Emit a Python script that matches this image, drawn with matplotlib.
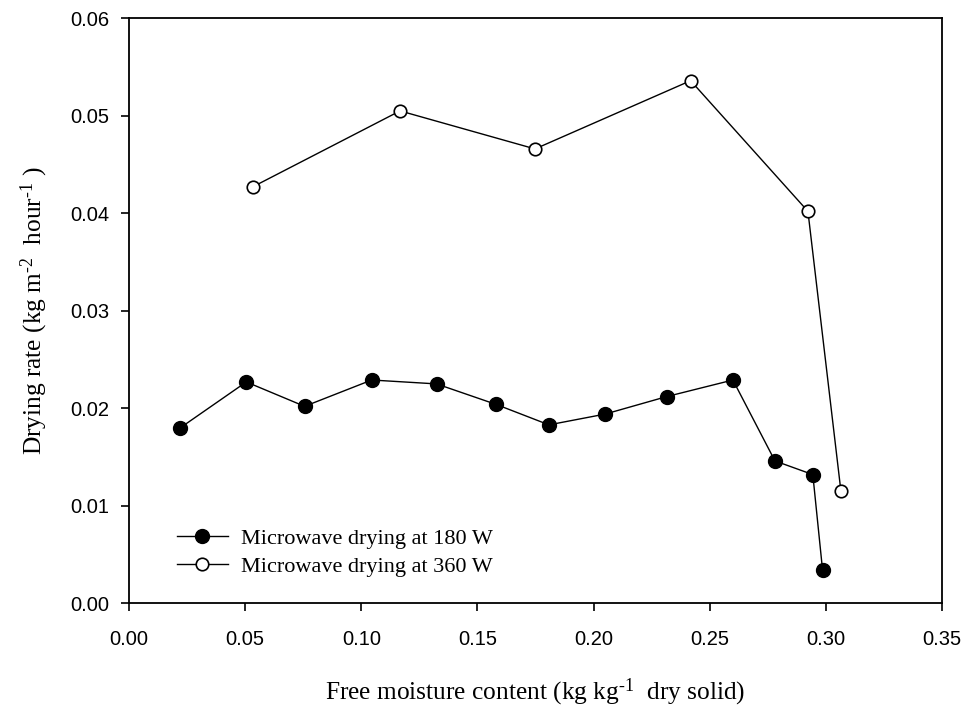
import matplotlib
matplotlib.use("Agg")
import matplotlib.pyplot as plt

# Drying-rate curves for microwave drying at two power levels
moisture_180 = [0.0221, 0.0505, 0.0756, 0.1045, 0.1324, 0.1580, 0.1808,
                0.2049, 0.2315, 0.2600, 0.2781, 0.2944, 0.2986]
rate_180 = [0.0180, 0.0227, 0.0202, 0.0229, 0.0225, 0.0204, 0.0183,
            0.0194, 0.0212, 0.0229, 0.0146, 0.0132, 0.0034]

moisture_360 = [0.0532, 0.1167, 0.1748, 0.2418, 0.2923, 0.3065]
rate_360 = [0.0427, 0.0505, 0.0466, 0.0536, 0.0402, 0.0115]

labels = ["Microwave drying at 180 W", "Microwave drying at 360 W"]
xticks = [0.00, 0.05, 0.10, 0.15, 0.20, 0.25, 0.30, 0.35]
yticks = [0.00, 0.01, 0.02, 0.03, 0.04, 0.05, 0.06]

plt.rcParams["mathtext.fontset"] = "custom"
plt.rcParams["mathtext.rm"] = "Liberation Serif"
plt.rcParams["mathtext.default"] = "regular"

fig = plt.figure(figsize=(9.67, 7.11), dpi=100)
ax = fig.add_axes([0.1334, 0.1515, 0.8407, 0.8228])

ax.plot(moisture_180, rate_180, color="black", lw=1.0, marker="o",
        ms=10, mfc="black", mec="black", label=labels[0])
ax.plot(moisture_360, rate_360, color="black", lw=1.0, marker="o",
        ms=9, mfc="white", mec="black", mew=1.2, label=labels[1])

ax.set_xlim(0, 0.35)
ax.set_ylim(0, 0.06)
ax.set_xticks(xticks)
ax.set_yticks(yticks)
ax.set_xticklabels([f"{t:.2f}" for t in xticks])
ax.set_yticklabels([f"{t:.2f}" for t in yticks])

for side in ["top", "bottom", "left", "right"]:
    ax.spines[side].set_linewidth(1.3)

ax.tick_params(axis="both", direction="out", length=6, width=1.2,
               labelsize=14.5, top=False, right=False)
ax.tick_params(axis="x", pad=13)
ax.tick_params(axis="y", pad=8)
for lab in ax.get_xticklabels() + ax.get_yticklabels():
    lab.set_fontfamily("Liberation Sans")

ax.set_xlabel(r"Free moisture content (kg kg$^{\text{-1}}$  dry solid)",
              fontfamily="Liberation Serif", fontsize=18.3, labelpad=20)
ax.set_ylabel(r"Drying rate (kg m$^{\text{-2}}$  hour$^{\text{-1}}$ )",
              fontfamily="Liberation Serif", fontsize=18.3, labelpad=15)

leg = ax.legend(loc="lower left", bbox_to_anchor=(0.034, 0.011), frameon=False,
                prop={"family": "Liberation Serif", "size": 16},
                handlelength=2.3, handletextpad=0.6, labelspacing=0.35,
                markerscale=1.0)

fig.savefig("out.png", dpi=100)
